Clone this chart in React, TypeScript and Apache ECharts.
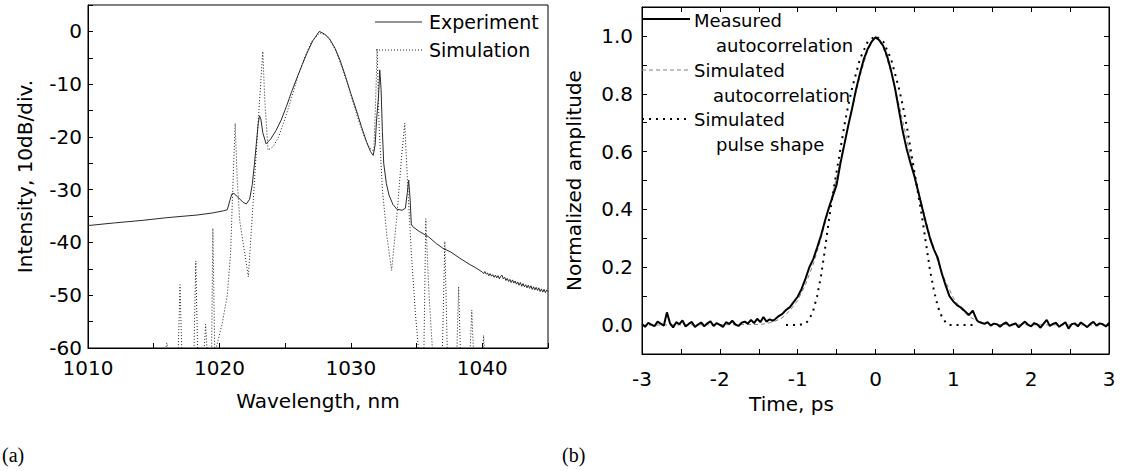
import React, { useEffect, useRef } from "react";
import * as echarts from "echarts";

const SANS = "DejaVu Sans";
const SERIF = "Liberation Serif";

// ---------- (a) spectrum ----------
const wavelengthTickLabels = [1010, 1020, 1030, 1040];
const intensityTickLabels = [-60, -50, -40, -30, -20, -10, 0];

const experimentSpectrum: [number, number][] = [
  [1010.0, -36.8], [1012.0, -36.3], [1014.2, -35.8], [1016.0, -35.3], [1018.3, -34.8],
  [1019.5, -34.4], [1020.3, -34.0], [1020.6, -33.8], [1020.8, -32.0], [1020.95, -30.8],
  [1021.1, -30.7], [1021.4, -31.4], [1021.8, -32.4], [1022.05, -32.7], [1022.3, -31.8],
  [1022.5, -29.0], [1022.65, -25.5], [1022.8, -21.5], [1022.95, -17.5], [1023.05, -16.0],
  [1023.15, -16.6], [1023.3, -19.2], [1023.55, -21.3], [1023.9, -20.4], [1024.3, -18.8],
  [1024.7, -16.8], [1025.1, -14.2], [1025.5, -11.4], [1025.9, -8.8], [1026.3, -6.3],
  [1026.7, -3.9], [1027.1, -1.8], [1027.6, 0.0], [1028.0, -0.5], [1028.4, -1.5],
  [1028.8, -3.2], [1029.2, -5.6], [1029.6, -8.6], [1030.0, -11.8], [1030.4, -14.8],
  [1030.8, -18.0], [1031.2, -21.0], [1031.5, -22.8], [1031.7, -23.5], [1031.85, -21.5],
  [1031.95, -17.0], [1032.1, -12.5], [1032.2, -7.3], [1032.3, -11.0], [1032.4, -19.0],
  [1032.5, -25.0], [1032.7, -28.8], [1032.9, -31.0], [1033.2, -32.8], [1033.5, -33.7],
  [1033.9, -33.9], [1034.15, -33.5], [1034.3, -30.5], [1034.4, -28.2], [1034.5, -31.5],
  [1034.6, -36.5], [1034.7, -37.0], [1035.2, -37.9], [1035.9, -38.9], [1036.5, -40.2],
  [1037.0, -41.1], [1037.6, -41.8], [1038.3, -43.0], [1039.0, -44.1], [1039.5, -44.8],
  [1040.0, -45.6], [1040.1, -45.9], [1040.2, -45.5], [1040.3, -46.0], [1040.4, -45.8],
  [1040.5, -46.3], [1040.6, -45.9], [1040.7, -46.4], [1040.8, -46.1], [1040.9, -46.6],
  [1041.0, -46.2], [1041.1, -46.7], [1041.2, -46.3], [1041.3, -46.9], [1041.4, -46.4],
  [1041.5, -46.2], [1041.6, -46.9], [1041.7, -46.6], [1041.8, -47.2], [1041.9, -46.8],
  [1042.0, -47.4], [1042.1, -47.0], [1042.2, -47.6], [1042.3, -47.1], [1042.4, -47.7],
  [1042.5, -47.3], [1042.6, -47.9], [1042.7, -47.5], [1042.8, -48.1], [1042.9, -47.6],
  [1043.0, -48.3], [1043.1, -47.8], [1043.2, -48.4], [1043.3, -48.0], [1043.4, -48.6],
  [1043.5, -48.1], [1043.6, -48.7], [1043.7, -48.2], [1043.8, -48.9], [1043.9, -48.4],
  [1044.0, -49.0], [1044.1, -48.5], [1044.2, -49.1], [1044.3, -48.6], [1044.4, -49.3],
  [1044.5, -48.8], [1044.6, -49.4], [1044.7, -48.9], [1044.8, -49.5], [1044.9, -49.0],
  [1045.0, -49.3],
];

const simulationSpectrum: [number, number][] = [
  [1015.8, -62], [1016.0, -59], [1016.2, -62],
  [1016.85, -62], [1017.0, -48], [1017.15, -62],
  [1018.05, -62], [1018.2, -43.5], [1018.35, -62],
  [1018.8, -62], [1018.95, -55.5], [1019.1, -62],
  [1019.4, -62], [1019.5, -37.3], [1019.65, -62],
  [1019.75, -60], [1020.2, -55.5], [1020.6, -50], [1020.85, -42], [1021.0, -31],
  [1021.2, -17.4], [1021.35, -28], [1021.55, -36], [1021.8, -40], [1022.2, -46.5],
  [1022.55, -33], [1022.9, -19], [1023.3, -3.8], [1023.45, -13], [1023.7, -22.5],
  [1024.1, -21.8], [1024.5, -20], [1025.0, -16.5], [1025.5, -12.5], [1026.0, -8.3],
  [1026.5, -4.8], [1027.0, -2.0], [1027.6, -0.3], [1028.2, -0.8], [1028.8, -3.4],
  [1029.4, -7.3], [1030.0, -12], [1030.5, -16.2], [1031.0, -19.8], [1031.4, -22],
  [1031.75, -22.8], [1031.9, -12], [1032.0, -3.3], [1032.15, -18], [1032.4, -30],
  [1032.75, -39], [1033.1, -45.3], [1033.5, -35], [1033.85, -24], [1034.1, -17.4],
  [1034.3, -28], [1034.6, -42], [1034.9, -53], [1035.2, -62],
  [1035.55, -62], [1035.7, -35.5], [1035.95, -50], [1036.25, -62],
  [1036.95, -62], [1037.15, -39.8], [1037.35, -62],
  [1038.05, -62], [1038.2, -48.4], [1038.35, -62],
  [1039.05, -62], [1039.2, -52.8], [1039.35, -62],
  [1040.0, -62], [1040.1, -57.6], [1040.2, -62],
];

// ---------- (b) autocorrelation ----------
const timeTickLabels = [-3, -2, -1, 0, 1, 2, 3];
const amplitudeTickLabels = [0, 0.2, 0.4, 0.6, 0.8, 1.0];

const baselineLeftStart = -3.0;
const baselineRightStart = 1.32;
const baselineStep = 0.04;
const measuredBaselineLeft = [
  0.003, -0.006, 0.008, 0.002, -0.004, 0.012, 0.005, -0.002, 0.044, 0.006,
  -0.008, 0.01, 0.003, 0.016, -0.005, 0.004, 0.011, -0.007, 0.002, 0.009,
  -0.004, 0.006, 0.013, -0.003, 0.007, 0.001, -0.006, 0.01, 0.004, 0.015,
  0.002, -0.003, 0.008, 0.012, 0.005, 0.018, 0.007, 0.022, 0.01, 0.028,
  0.012, 0.02, 0.015,
];
const measuredPulse: [number, number][] = [
  [-1.3, 0.018], [-1.25, 0.03], [-1.2, 0.038], [-1.15, 0.052], [-1.1, 0.062],
  [-1.05, 0.08], [-1.0, 0.098], [-0.95, 0.125], [-0.9, 0.16], [-0.85, 0.2],
  [-0.8, 0.228], [-0.75, 0.268], [-0.7, 0.31], [-0.65, 0.36], [-0.6, 0.405],
  [-0.55, 0.445], [-0.5, 0.485], [-0.45, 0.56], [-0.4, 0.625], [-0.35, 0.69],
  [-0.3, 0.75], [-0.25, 0.815], [-0.2, 0.87], [-0.15, 0.92], [-0.1, 0.955],
  [-0.05, 0.98], [0.0, 0.995], [0.05, 0.985], [0.1, 0.965], [0.15, 0.93],
  [0.2, 0.88], [0.25, 0.82], [0.3, 0.745], [0.35, 0.67], [0.4, 0.61],
  [0.45, 0.56], [0.5, 0.515], [0.55, 0.46], [0.6, 0.405], [0.65, 0.35],
  [0.7, 0.3], [0.75, 0.262], [0.8, 0.232], [0.85, 0.18], [0.9, 0.138],
  [0.95, 0.1], [1.0, 0.082], [1.05, 0.068], [1.1, 0.06], [1.15, 0.048],
  [1.2, 0.035], [1.25, 0.05], [1.3, 0.018],
];
const measuredBaselineRight = [
  0.012, 0.008, 0.004, 0.01, -0.002, 0.005, 0.003, -0.006, 0.004, 0.009,
  -0.003, 0.002, 0.006, -0.008, 0.003, 0.012, 0.001, -0.004, 0.007, 0.002,
  -0.009, 0.005, 0.018, -0.003, 0.004, 0.008, -0.006, 0.002, 0.01, -0.012,
  0.003, 0.006, -0.004, 0.009, 0.001, -0.007, 0.004, 0.011, -0.002, 0.006,
  0.003, -0.005, 0.008,
];

const simulatedAutocorrelation: [number, number][] = [
  [-3.0, 0], [-1.5, 0.002], [-1.4, 0.005], [-1.3, 0.012], [-1.2, 0.025], [-1.1, 0.05],
  [-1.0, 0.085], [-0.9, 0.14], [-0.8, 0.21], [-0.7, 0.3], [-0.6, 0.4], [-0.5, 0.51],
  [-0.4, 0.63], [-0.3, 0.75], [-0.2, 0.86], [-0.1, 0.95], [0.0, 1.0], [0.1, 0.96],
  [0.2, 0.875], [0.3, 0.765], [0.4, 0.645], [0.5, 0.525], [0.6, 0.41], [0.7, 0.31],
  [0.8, 0.22], [0.9, 0.15], [1.0, 0.095], [1.1, 0.055], [1.2, 0.03], [1.3, 0.015],
  [1.4, 0.006], [1.5, 0.002], [3.0, 0],
];

const simulatedPulse: [number, number][] = [
  [-1.15, 0], [-1.0, 0], [-0.9, 0.005], [-0.85, 0.02], [-0.8, 0.05], [-0.75, 0.1],
  [-0.7, 0.17], [-0.65, 0.26], [-0.6, 0.36], [-0.55, 0.45], [-0.5, 0.53], [-0.45, 0.61],
  [-0.4, 0.69], [-0.35, 0.76], [-0.3, 0.82], [-0.2, 0.92], [-0.1, 0.98], [0.0, 1.0],
  [0.1, 0.98], [0.2, 0.92], [0.3, 0.82], [0.35, 0.76], [0.4, 0.69], [0.45, 0.61],
  [0.5, 0.53], [0.55, 0.45], [0.6, 0.37], [0.65, 0.28], [0.7, 0.19], [0.75, 0.12],
  [0.8, 0.065], [0.85, 0.03], [0.9, 0.01], [0.95, 0], [1.3, 0],
];

function buildMeasured(): [number, number][] {
  const left = measuredBaselineLeft.map(
    (v, i) => [+(baselineLeftStart + i * baselineStep).toFixed(3), v] as [number, number]
  );
  const right = measuredBaselineRight.map(
    (v, i) => [+(baselineRightStart + i * baselineStep).toFixed(3), v] as [number, number]
  );
  return [...left, ...measuredPulse, ...right];
}

const tickStyle = { inside: true, length: 5, lineStyle: { color: "#000", width: 1 } };
const lineAxis = { onZero: false, lineStyle: { color: "#000", width: 1 } };
const labelBase = { color: "#000", fontFamily: SANS, fontSize: 20 };
const nameStyle = { color: "#000", fontFamily: SANS, fontSize: 20 };

export default function App() {
  const ref = useRef<HTMLDivElement>(null);

  useEffect(() => {
    if (!ref.current) return;
    const chart = echarts.init(ref.current, undefined, { renderer: "svg" });

    const legendText = (text: string, x: number, y: number, size: number) => ({
      type: "text",
      x,
      y,
      z: 100,
      style: { text, fill: "#000", fontFamily: SANS, fontSize: size, align: "left", verticalAlign: "middle" },
    });
    const legendLine = (x1: number, x2: number, y: number, stroke: string, lineWidth: number, lineDash?: number[]) => ({
      type: "line",
      z: 100,
      shape: { x1, y1: y, x2, y2: y },
      style: { stroke, lineWidth, lineDash },
    });

    chart.setOption({
      animation: false,
      backgroundColor: "#fff",
      grid: [
        { left: 88, top: 5, width: 460, height: 343, show: true, borderColor: "#000", borderWidth: 1, containLabel: false },
        { left: 642, top: 7, width: 467, height: 347, show: true, borderColor: "#000", borderWidth: 1, containLabel: false },
      ],
      xAxis: [
        {
          gridIndex: 0, type: "value", min: 1010, max: 1045, interval: 5,
          axisLine: lineAxis, axisTick: tickStyle, splitLine: { show: false },
          axisLabel: {
            ...labelBase, margin: 10, showMinLabel: true, showMaxLabel: true,
            formatter: (v: number) => (wavelengthTickLabels.includes(Math.round(v)) ? String(Math.round(v)) : ""),
          },
          name: "Wavelength, nm", nameLocation: "middle", nameGap: 43, nameTextStyle: nameStyle,
        },
        {
          gridIndex: 1, type: "value", min: -3, max: 3, interval: 0.5,
          axisLine: lineAxis, axisTick: tickStyle, splitLine: { show: false },
          axisLabel: {
            ...labelBase, margin: 15, showMinLabel: true, showMaxLabel: true,
            formatter: (v: number) => (timeTickLabels.some((t) => Math.abs(t - v) < 1e-6) ? String(Math.round(v)) : ""),
          },
          name: "Time, ps", nameLocation: "middle", nameGap: 38,
          nameTextStyle: { ...nameStyle, padding: [0, 168, 0, 0] },
        },
        {
          gridIndex: 1, type: "value", min: -3, max: 3, interval: 0.5, position: "top",
          axisLine: lineAxis, axisTick: tickStyle, splitLine: { show: false }, axisLabel: { show: false },
        },
      ],
      yAxis: [
        {
          gridIndex: 0, type: "value", min: -60, max: 5, interval: 5,
          axisLine: lineAxis, axisTick: tickStyle, splitLine: { show: false },
          axisLabel: {
            ...labelBase, margin: 6, showMinLabel: true,
            formatter: (v: number) => (intensityTickLabels.includes(Math.round(v)) ? String(Math.round(v)) : ""),
          },
          name: "Intensity, 10dB/div.", nameLocation: "middle", nameGap: 53, nameTextStyle: nameStyle,
        },
        {
          gridIndex: 1, type: "value", min: -0.1, max: 1.1, interval: 0.1,
          axisLine: lineAxis, axisTick: tickStyle, splitLine: { show: false },
          axisLabel: {
            ...labelBase, margin: 9, showMinLabel: true, showMaxLabel: true,
            formatter: (v: number) =>
              amplitudeTickLabels.some((t) => Math.abs(t - v) < 1e-6) ? v.toFixed(1) : "",
          },
          name: "Normalized amplitude", nameLocation: "middle", nameGap: 58, nameTextStyle: nameStyle,
        },
        {
          gridIndex: 1, type: "value", min: -0.1, max: 1.1, interval: 0.1, position: "right",
          axisLine: lineAxis, axisTick: tickStyle, splitLine: { show: false }, axisLabel: { show: false },
        },
      ],
      series: [
        {
          name: "Experiment", type: "line", xAxisIndex: 0, yAxisIndex: 0, symbol: "none",
          data: experimentSpectrum, lineStyle: { color: "#2a2a2a", width: 1 }, z: 3,
        },
        {
          name: "Simulation", type: "line", xAxisIndex: 0, yAxisIndex: 0, symbol: "none",
          data: simulationSpectrum, lineStyle: { color: "#222", width: 1, type: [1, 2] }, z: 2,
        },
        {
          name: "Measured autocorrelation", type: "line", xAxisIndex: 1, yAxisIndex: 1, symbol: "none",
          data: buildMeasured(), lineStyle: { color: "#000", width: 2 }, z: 3,
        },
        {
          name: "Simulated autocorrelation", type: "line", xAxisIndex: 1, yAxisIndex: 1, symbol: "none",
          data: simulatedAutocorrelation, lineStyle: { color: "#808080", width: 1, type: [4, 3] }, z: 2,
        },
        {
          name: "Simulated pulse shape", type: "line", xAxisIndex: 1, yAxisIndex: 1, symbol: "none",
          data: simulatedPulse, lineStyle: { color: "#000", width: 2, type: [2, 5] }, z: 2,
        },
      ],
      graphic: [
        legendLine(375, 422, 22, "#2a2a2a", 1),
        legendText("Experiment", 429, 22, 19),
        legendLine(376, 422, 50, "#222", 1, [1, 2]),
        legendText("Simulation", 429, 50, 19),
        legendLine(642, 690, 19, "#000", 2),
        legendText("Measured", 694, 20, 18),
        legendText("autocorrelation", 716, 45, 18),
        legendLine(642, 690, 70, "#808080", 1, [4, 3]),
        legendText("Simulated", 694, 70, 18),
        legendText("autocorrelation", 713, 95, 18),
        legendLine(642, 690, 119, "#000", 2, [2, 5]),
        legendText("Simulated", 694, 119, 18),
        legendText("pulse shape", 716, 144, 18),
        {
          type: "text", x: 2, y: 455,
          style: { text: "(a)", fill: "#000", fontFamily: SERIF, fontSize: 20, verticalAlign: "middle" },
        },
        {
          type: "text", x: 562, y: 455,
          style: { text: "(b)", fill: "#000", fontFamily: SERIF, fontSize: 20, verticalAlign: "middle" },
        },
      ],
    });

    return () => chart.dispose();
  }, []);

  return (
    <div
      ref={ref}
      style={{ position: "fixed", left: 0, top: 0, width: 1121, height: 471, background: "#fff" }}
    />
  );
}
